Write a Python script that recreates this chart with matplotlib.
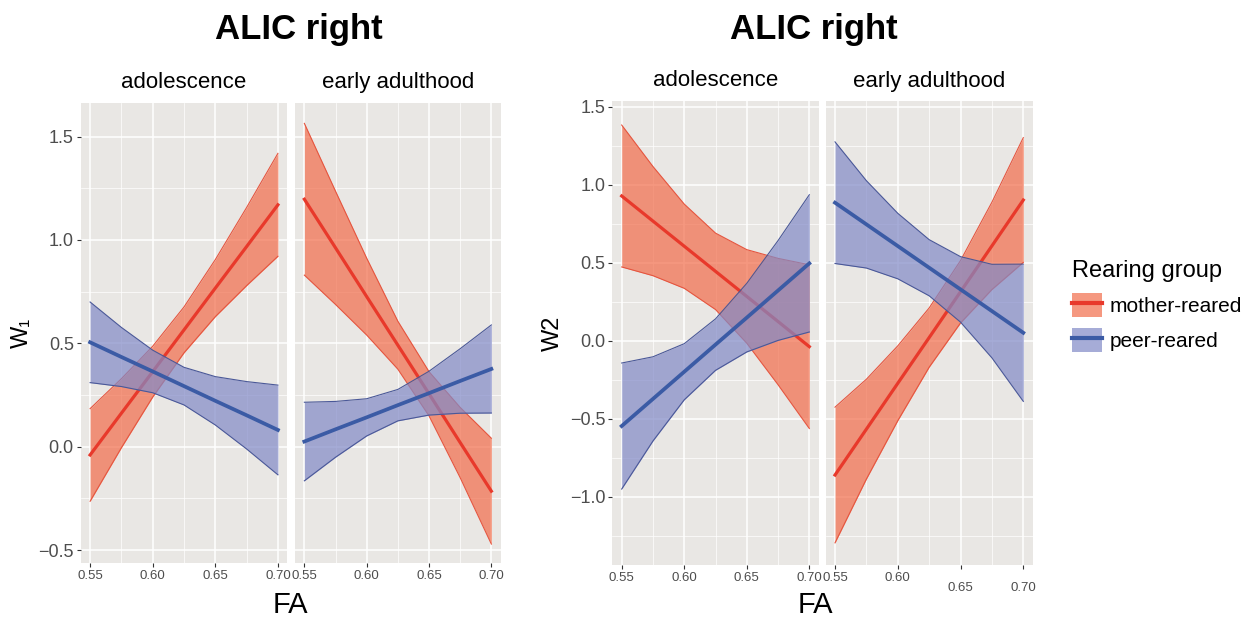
import matplotlib
matplotlib.use('Agg')
import matplotlib.pyplot as plt
from matplotlib.patches import Patch
from matplotlib.lines import Line2D

plt.rcParams['font.family'] = ['Liberation Sans', 'DejaVu Sans']

fa = [0.55, 0.575, 0.60, 0.625, 0.65, 0.675, 0.70]

# W1, adolescence
w1_adol_mother_fit = [-0.040, 0.162, 0.363, 0.565, 0.767, 0.968, 1.170]
w1_adol_mother_lo = [-0.264, -0.005, 0.240, 0.454, 0.629, 0.779, 0.921]
w1_adol_mother_hi = [0.184, 0.329, 0.486, 0.676, 0.905, 1.157, 1.419]
w1_adol_peer_fit = [0.505, 0.434, 0.364, 0.293, 0.222, 0.152, 0.081]
w1_adol_peer_lo = [0.310, 0.291, 0.261, 0.202, 0.105, -0.011, -0.136]
w1_adol_peer_hi = [0.700, 0.577, 0.467, 0.384, 0.339, 0.315, 0.298]
# W1, early adulthood
w1_early_mother_fit = [1.197, 0.962, 0.726, 0.491, 0.256, 0.020, -0.215]
w1_early_mother_lo = [0.830, 0.688, 0.540, 0.375, 0.149, -0.150, -0.471]
w1_early_mother_hi = [1.564, 1.236, 0.912, 0.607, 0.363, 0.190, 0.041]
w1_early_peer_fit = [0.025, 0.084, 0.142, 0.201, 0.259, 0.318, 0.376]
w1_early_peer_lo = [-0.165, -0.051, 0.052, 0.125, 0.153, 0.162, 0.163]
w1_early_peer_hi = [0.215, 0.219, 0.232, 0.277, 0.365, 0.474, 0.589]
# W2, adolescence
w2_adol_mother_fit = [0.928, 0.767, 0.606, 0.445, 0.284, 0.123, -0.038]
w2_adol_mother_lo = [0.473, 0.417, 0.336, 0.200, -0.016, -0.282, -0.563]
w2_adol_mother_hi = [1.383, 1.117, 0.876, 0.690, 0.584, 0.528, 0.487]
w2_adol_peer_fit = [-0.547, -0.373, -0.199, -0.025, 0.148, 0.322, 0.496]
w2_adol_peer_lo = [-0.951, -0.643, -0.379, -0.190, -0.072, 0.002, 0.056]
w2_adol_peer_hi = [-0.143, -0.103, -0.019, 0.140, 0.368, 0.642, 0.936]
# W2, early adulthood
w2_early_mother_fit = [-0.861, -0.567, -0.273, 0.020, 0.314, 0.608, 0.902]
w2_early_mother_lo = [-1.296, -0.887, -0.513, -0.170, 0.114, 0.328, 0.502]
w2_early_mother_hi = [-0.426, -0.247, -0.033, 0.210, 0.514, 0.888, 1.302]
w2_early_peer_fit = [0.885, 0.746, 0.607, 0.468, 0.329, 0.190, 0.051]
w2_early_peer_lo = [0.495, 0.466, 0.397, 0.288, 0.119, -0.110, -0.389]
w2_early_peer_hi = [1.275, 1.026, 0.817, 0.648, 0.539, 0.490, 0.491]

x_ticks = [0.55, 0.60, 0.65, 0.70]
x_labels = ['0.55', '0.60', '0.65', '0.70']
w1_ticks = [-0.5, 0.0, 0.5, 1.0, 1.5]
w1_labels = ['\u22120.5', '0.0', '0.5', '1.0', '1.5']
w2_ticks = [-1.0, -0.5, 0.0, 0.5, 1.0, 1.5]
w2_labels = ['\u22121.0', '\u22120.5', '0.0', '0.5', '1.0', '1.5']
facets = ['adolescence', 'early adulthood']
groups = ['mother-reared', 'peer-reared']

red = '#E8392B'
red_fill = '#F26C4A'
red_edge = '#E5553F'
blue = '#3B5BA5'
blue_fill = '#8189C7'
blue_edge = '#4A5898'
bg = '#E9E7E4'

W, H = 1256, 626
fig = plt.figure(figsize=(W / 100, H / 100), dpi=100)


def panel(left, right, top, bottom):
    return fig.add_axes([left / W, 1 - bottom / H, (right - left) / W, (bottom - top) / H])


def draw(ax, m_fit, m_lo, m_hi, p_fit, p_lo, p_hi, ylim, yticks, ylabels, first, title):
    ax.set_facecolor(bg)
    for s in ax.spines.values():
        s.set_visible(False)
    ax.set_xticks([0.575, 0.625, 0.675], minor=True)
    ax.set_yticks([v + 0.25 for v in yticks] + [yticks[0] - 0.25], minor=True)
    ax.set_xticks(x_ticks, x_labels)
    ax.set_yticks(yticks, ylabels)
    ax.set_xlim(0.5425, 0.7075)
    ax.set_ylim(ylim)
    ax.grid(True, which='major', color='white', lw=1.1, zorder=0)
    ax.grid(True, which='minor', color='white', lw=0.5, zorder=0)
    ax.set_axisbelow(True)
    ax.tick_params(axis='x', which='major', labelsize=9.5, labelcolor='#4D4D4D',
                   color='#333333', length=3, width=0.8, pad=2)
    ax.tick_params(which='minor', length=0)
    if first:
        ax.tick_params(axis='y', which='major', labelsize=13, labelcolor='#4D4D4D',
                       color='#333333', length=3, width=0.8, pad=2)
    else:
        ax.tick_params(axis='y', which='major', length=0, labelleft=False)

    ax.fill_between(fa, m_lo, m_hi, color=red_fill, alpha=0.7, lw=0, zorder=2)
    ax.plot(fa, m_lo, color=red_edge, lw=0.8, zorder=2)
    ax.plot(fa, m_hi, color=red_edge, lw=0.8, zorder=2)
    ax.plot(fa, m_fit, color=red, lw=2.3, zorder=3)
    ax.fill_between(fa, p_lo, p_hi, color=blue_fill, alpha=0.7, lw=0, zorder=4)
    ax.plot(fa, p_lo, color=blue_edge, lw=0.8, zorder=4)
    ax.plot(fa, p_hi, color=blue_edge, lw=0.8, zorder=4)
    ax.plot(fa, p_fit, color=blue, lw=2.7, zorder=5)

    top_off = 20.0 / (ax.get_position().height * H)
    ax.text(0.5, 1 + top_off, title, transform=ax.transAxes, ha='center', va='center',
            fontsize=16)


w1_lim = (-0.564, 1.664)
w2_lim = (-1.438, 1.537)

ax1 = panel(80.7, 287.3, 102.7, 563.3)
draw(ax1, w1_adol_mother_fit, w1_adol_mother_lo, w1_adol_mother_hi,
     w1_adol_peer_fit, w1_adol_peer_lo, w1_adol_peer_hi, w1_lim, w1_ticks, w1_labels, True, facets[0])
ax2 = panel(295, 500.7, 102.7, 563.3)
draw(ax2, w1_early_mother_fit, w1_early_mother_lo, w1_early_mother_hi,
     w1_early_peer_fit, w1_early_peer_lo, w1_early_peer_hi, w1_lim, w1_ticks, w1_labels, False, facets[1])
ax3 = panel(612.3, 818.7, 101, 565)
draw(ax3, w2_adol_mother_fit, w2_adol_mother_lo, w2_adol_mother_hi,
     w2_adol_peer_fit, w2_adol_peer_lo, w2_adol_peer_hi, w2_lim, w2_ticks, w2_labels, True, facets[0])
ax4 = panel(825.6, 1032.7, 101, 565)
draw(ax4, w2_early_mother_fit, w2_early_mother_lo, w2_early_mother_hi,
     w2_early_peer_fit, w2_early_peer_lo, w2_early_peer_hi, w2_lim, w2_ticks, w2_labels, False, facets[1])

# last two tick labels of the right-hand panel sit lower in the original
for t in ax4.xaxis.get_major_ticks()[2:]:
    t.set_pad(9)

fig.text(299 / W, 1 - 30 / H, 'ALIC right', ha='center', va='center', fontsize=25, fontweight='bold')
fig.text(814 / W, 1 - 30 / H, 'ALIC right', ha='center', va='center', fontsize=25, fontweight='bold')
fig.text(290 / W, 1 - 605 / H, 'FA', ha='center', va='center', fontsize=21)
fig.text(815 / W, 1 - 605 / H, 'FA', ha='center', va='center', fontsize=21)
fig.text(22 / W, 1 - 333 / H, 'W\u2081', ha='center', va='center', fontsize=17, rotation=90)
fig.text(553 / W, 1 - 333 / H, 'W2', ha='center', va='center', fontsize=17, rotation=90)

handles = [(Patch(facecolor=red_fill, alpha=0.7, lw=0), Line2D([], [], color=red, lw=3)),
           (Patch(facecolor=blue_fill, alpha=0.7, lw=0), Line2D([], [], color=blue, lw=3))]
fig.legend(handles, groups, title='Rearing group', loc='upper left',
           bbox_to_anchor=(1072 / W, 1 - 260 / H), frameon=False, fontsize=15,
           title_fontsize=17, handlelength=1.45, handleheight=1.35, handletextpad=0.35,
           labelspacing=0.55, alignment='left', borderpad=0, borderaxespad=0)

fig.savefig('out.png', dpi=100)
